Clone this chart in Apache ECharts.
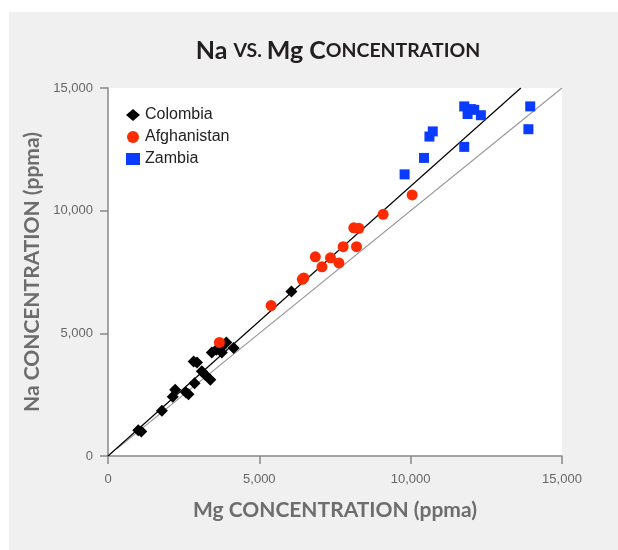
<!DOCTYPE html>
<html>
<head>
<meta charset="utf-8">
<script src="https://cdn.jsdelivr.net/npm/echarts@6/dist/echarts.min.js"></script>
<style>
  html, body { margin: 0; padding: 0; background: #fff; }
  #main { width: 618px; height: 550px; }
</style>
</head>
<body>
<div id="main"></div>
<script>
// Colombia samples [Mg, Na] in ppma
const colombia = [
  [1000, 1050], [1100, 1000], [1780, 1840], [2140, 2420], [2220, 2700],
  [2580, 2590], [2660, 2520], [2860, 2970], [2830, 3850], [2940, 3810],
  [3100, 3450], [3210, 3310], [3380, 3110], [3430, 4220], [3580, 4330],
  [3760, 4220], [3910, 4630], [3730, 4400], [4150, 4400], [6060, 6710]
];
const afghanistan = [
  [3680, 4630], [5390, 6130], [6470, 7260], [6420, 7200], [6850, 8120],
  [7070, 7710], [7350, 8080], [7630, 7870], [7770, 8530], [8210, 8530],
  [8120, 9300], [8290, 9280], [9090, 9850], [10050, 10640]
];
const zambia = [
  [9800, 11480], [10440, 12150], [10620, 13020], [10730, 13230], [11770, 12600],
  [11770, 14250], [11880, 13940], [11990, 14140], [12100, 14110], [12320, 13890],
  [13950, 14250], [13890, 13320]
];
// reference lines
const fitLine = [[0, 0], [13640, 15000]];
const oneToOne = [[300, 300], [15000, 15000]];
const axisTicks = [0, 5000, 10000, 15000];

const chart = echarts.init(document.getElementById("main"));

const nameFont = "Lato";
const option = {
  backgroundColor: "#fff",
  graphic: [
    {
      type: "rect",
      z: -10,
      shape: { x: 9, y: 12, width: 609, height: 538 },
      style: { fill: "#f0f0f0" },
    },
  ],
  title: {
    text: "{b|Na }{s|VS. }{b|Mg C}{s|ONCENTRATION}",
    left: 333,
    textAlign: "center",
    top: 33,
    textStyle: {
      rich: {
        b: { fontFamily: nameFont, fontWeight: "bold", fontSize: 25, color: "#231f20" },
        s: { fontFamily: nameFont, fontWeight: "bold", fontSize: 19.5, color: "#231f20" },
      },
    },
  },
  grid: {
    left: 108,
    top: 88,
    right: 56,
    bottom: 94,
    show: true,
    backgroundColor: "#fff",
    borderWidth: 0,
  },
  legend: {
    data: ["Colombia", "Afghanistan", "Zambia"],
    orient: "vertical",
    left: 121,
    top: 102,
    itemGap: 6,
    itemWidth: 14,
    itemHeight: 12,
    textStyle: { fontFamily: "Liberation Sans", fontSize: 16, color: "#222" },
  },
  xAxis: {
    type: "value",
    min: axisTicks[0],
    max: axisTicks[axisTicks.length - 1],
    interval: 5000,
    name: "Mg CONCENTRATION (ppma)",
    nameLocation: "middle",
    nameGap: 44,
    nameTextStyle: { fontFamily: nameFont, fontWeight: "bold", fontSize: 21, color: "#6d6d6d" },
    axisLine: { lineStyle: { color: "#888", width: 1.5 } },
    axisTick: { length: 8, lineStyle: { color: "#888", width: 1.5 } },
    axisLabel: { fontFamily: "Liberation Sans", fontSize: 13, color: "#666", margin: 17 },
    splitLine: { show: false },
  },
  yAxis: {
    type: "value",
    min: axisTicks[0],
    max: axisTicks[axisTicks.length - 1],
    interval: 5000,
    name: "Na CONCENTRATION (ppma)",
    nameLocation: "middle",
    nameGap: 64,
    nameTextStyle: { fontFamily: nameFont, fontWeight: "bold", fontSize: 21, color: "#6d6d6d" },
    axisLine: { lineStyle: { color: "#888", width: 1.5 } },
    axisTick: { length: 8, lineStyle: { color: "#888", width: 1.5 } },
    axisLabel: { fontFamily: "Liberation Sans", fontSize: 13, color: "#666", margin: 15 },
    splitLine: { show: false },
  },
  series: [
    {
      name: "oneToOne",
      type: "line",
      data: oneToOne,
      symbol: "none",
      lineStyle: { color: "#999", width: 1.2 },
      silent: true,
      z: 1,
    },
    {
      name: "fit",
      type: "line",
      data: fitLine,
      symbol: "none",
      lineStyle: { color: "#000", width: 1.2 },
      silent: true,
      z: 1,
    },
    {
      name: "Colombia",
      type: "scatter",
      data: colombia,
      symbol: "diamond",
      symbolSize: 12,
      itemStyle: { color: "#000", opacity: 1 },
      z: 3,
    },
    {
      name: "Afghanistan",
      type: "scatter",
      data: afghanistan,
      symbol: "circle",
      symbolSize: 11,
      itemStyle: { color: "#ff2a00", opacity: 1 },
      z: 3,
    },
    {
      name: "Zambia",
      type: "scatter",
      data: zambia,
      symbol: "rect",
      symbolSize: 10,
      itemStyle: { color: "#0a3cff", opacity: 1 },
      z: 3,
    },
  ],
};

chart.setOption(option);
</script>
</body>
</html>
